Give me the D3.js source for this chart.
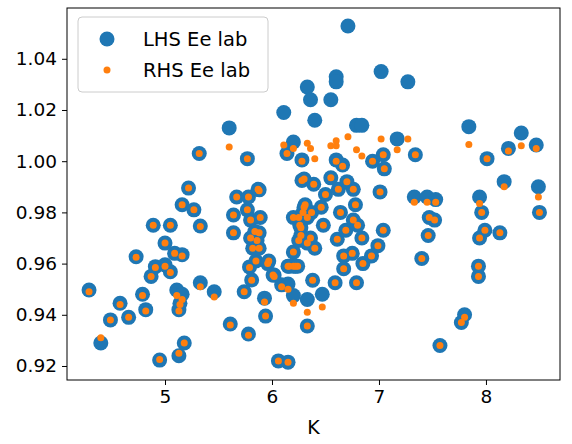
<!DOCTYPE html><html><head><meta charset="utf-8">
<script src="https://cdn.jsdelivr.net/npm/d3@7"></script>
<style>body{margin:0;background:#fff}text{font-family:"DejaVu Sans",sans-serif}</style></head><body>
<svg id="c" width="572" height="444"></svg>
<script>
const K=[4.29,4.4,4.49,4.58,4.66,4.73,4.79,4.82,4.87,4.89,4.91,4.95,5.0,5.0,5.05,5.05,5.09,5.11,5.13,5.13,5.14,5.16,5.16,5.16,5.18,5.22,5.27,5.32,5.33,5.33,5.46,5.6,5.61,5.64,5.64,5.67,5.74,5.77,5.77,5.78,5.78,5.79,5.8,5.8,5.81,5.82,5.84,5.85,5.86,5.87,5.88,5.88,5.88,5.89,5.93,5.94,5.96,5.97,6.01,6.02,6.06,6.09,6.11,6.14,6.15,6.15,6.15,6.16,6.2,6.2,6.2,6.2,6.2,6.22,6.24,6.25,6.25,6.26,6.27,6.27,6.28,6.28,6.29,6.3,6.3,6.31,6.33,6.33,6.33,6.33,6.33,6.36,6.36,6.37,6.38,6.39,6.4,6.4,6.46,6.47,6.48,6.5,6.55,6.55,6.59,6.6,6.6,6.61,6.62,6.64,6.66,6.67,6.67,6.69,6.7,6.71,6.75,6.76,6.76,6.78,6.79,6.79,6.8,6.84,6.84,6.85,6.93,6.94,6.99,7.01,7.02,7.04,7.04,7.05,7.17,7.27,7.33,7.34,7.4,7.45,7.46,7.47,7.52,7.53,7.57,7.77,7.8,7.84,7.93,7.93,7.94,7.94,7.96,7.99,8.01,8.13,8.17,8.21,8.33,8.47,8.49,8.5,6.6];
const LHS=[0.9497,0.929,0.938,0.9445,0.939,0.9627,0.948,0.942,0.955,0.975,0.9588,0.9223,0.968,0.9595,0.975,0.9568,0.964,0.9497,0.942,0.924,0.9445,0.983,0.9635,0.948,0.929,0.9895,0.981,1.003,0.9747,0.9525,0.949,1.013,0.9364,0.979,0.972,0.986,0.949,1.001,0.981,0.986,0.9325,0.9587,0.977,0.970,0.9536,0.966,0.9725,0.961,0.969,0.989,0.9888,0.972,0.966,0.978,0.9465,0.9395,0.960,0.961,0.9555,0.9555,0.922,0.9517,1.019,1.003,0.9215,0.959,0.952,0.959,1.0075,0.978,0.9645,0.9475,0.959,0.959,0.959,0.978,0.969,0.975,0.974,0.971,1.0005,0.9925,0.980,0.993,0.982,0.983,1.029,0.946,0.9356,0.978,0.968,1.024,0.970,0.980,0.9535,0.991,1.016,0.966,0.982,0.948,0.975,0.987,1.024,0.9935,0.9525,1.033,1.0005,0.9695,0.989,0.980,0.9985,0.963,0.958,0.973,0.992,1.0528,0.964,0.989,0.977,0.983,1.014,0.9525,0.975,0.970,1.014,0.960,0.963,1.0,0.967,0.988,1.035,1.0025,0.973,0.997,1.0087,1.031,0.986,1.0025,0.962,0.986,0.971,0.978,0.977,0.985,0.928,0.937,0.940,1.0135,0.959,0.955,0.986,0.970,0.980,0.973,1.001,0.972,0.992,1.005,1.011,1.0063,0.990,0.980,1.031];
const RHS=[0.9490,0.931,0.938,0.9440,0.939,0.9625,0.9475,0.9415,0.955,0.975,0.9585,0.9225,0.968,0.959,0.975,0.9565,0.964,0.9475,0.9415,0.925,0.944,0.983,0.963,0.946,0.929,0.9895,0.981,1.003,0.9745,0.951,0.947,1.0055,0.936,0.979,0.972,0.986,0.949,1.001,0.981,0.986,0.932,0.9585,0.977,0.970,0.9535,0.966,0.9725,0.961,0.969,0.989,0.9885,0.972,0.966,0.978,0.9450,0.9395,0.960,0.961,0.9555,0.9550,0.922,0.951,1.0063,1.003,0.9215,0.959,0.950,0.959,1.005,0.978,0.9645,0.9445,0.959,0.959,0.959,0.978,0.969,0.975,0.974,0.971,1.0,0.9925,0.980,0.993,0.982,0.983,1.007,0.941,0.9356,0.978,0.968,1.005,0.970,0.980,0.9535,0.991,1.001,0.966,0.982,0.943,0.975,0.987,1.006,0.9935,0.9525,1.008,1.0,0.9695,0.989,0.980,0.998,0.963,0.958,0.973,0.992,1.0095,0.964,0.989,0.977,0.983,1.0045,0.9525,0.975,0.970,1.002,0.960,0.963,1.0,0.967,0.988,1.0087,1.0025,0.973,0.997,1.0045,1.0087,0.984,1.0025,0.962,0.984,0.971,0.978,0.977,0.984,0.928,0.937,0.939,1.0065,0.959,0.955,0.9835,0.970,0.980,0.973,1.001,0.972,0.990,1.004,1.006,1.005,0.986,0.980,1.006];
const xTicks=[5,6,7,8], yTicks=[0.92,0.94,0.96,0.98,1.00,1.02,1.04];
const svg=d3.select("#c");
const L=67,R=560,T=8,B=380;
const x=d3.scaleLinear().domain([4.084,8.692]).range([L,R]);
const y=d3.scaleLinear().domain([0.91453,1.05984]).range([B,T]);
const pts=K.map((k,i)=>({k,l:LHS[i],r:RHS[i]}));
svg.append("g").selectAll("circle").data(pts).join("circle").attr("cx",d=>x(d.k)).attr("cy",d=>y(d.l)).attr("r",7.5).attr("fill","#1f77b4");
svg.append("g").selectAll("circle").data(pts).join("circle").attr("cx",d=>x(d.k)).attr("cy",d=>y(d.r)).attr("r",3.5).attr("fill","#ff7f0e");
svg.append("rect").attr("x",L).attr("y",T).attr("width",R-L).attr("height",B-T).attr("fill","none").attr("stroke","#000").attr("stroke-width",1);
const gx=svg.append("g").attr("transform",`translate(0,${B})`).call(d3.axisBottom(x).tickValues(xTicks).tickFormat(d3.format("d")).tickSize(5).tickPadding(5));
const gy=svg.append("g").attr("transform",`translate(${L},0)`).call(d3.axisLeft(y).tickValues(yTicks).tickFormat(d3.format(".2f")).tickSize(5).tickPadding(5));
[gx,gy].forEach(g=>{g.select(".domain").remove();g.selectAll("text").attr("font-size",18.5).attr("fill","#000").style("font-family","DejaVu Sans");});
svg.append("text").attr("x",(L+R)/2).attr("y",434).attr("text-anchor","middle").attr("font-size",19).text("K");
const lg=svg.append("g");
lg.append("rect").attr("x",78).attr("y",17).attr("width",190).attr("height",75).attr("rx",4).attr("fill","#fff").attr("fill-opacity",0.8).attr("stroke","#ccc");
lg.append("circle").attr("cx",107).attr("cy",39).attr("r",7.5).attr("fill","#1f77b4");
lg.append("circle").attr("cx",107).attr("cy",70).attr("r",3.5).attr("fill","#ff7f0e");
lg.append("text").attr("x",143).attr("y",46).attr("font-size",19.5).text("LHS Ee lab");
lg.append("text").attr("x",143).attr("y",77).attr("font-size",19.5).text("RHS Ee lab");
</script></body></html>
